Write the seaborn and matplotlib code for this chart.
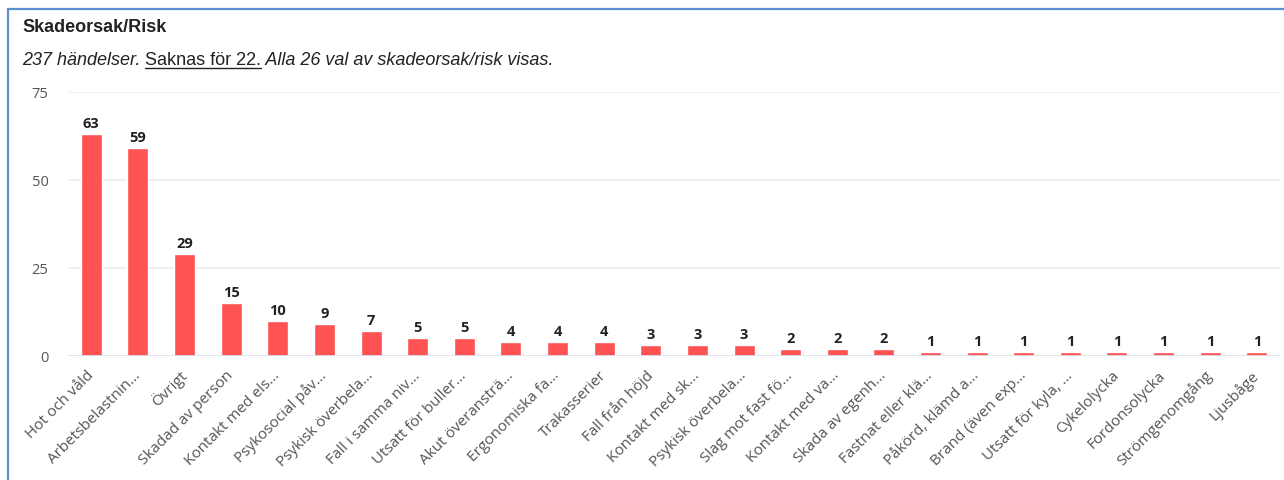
import matplotlib
matplotlib.use("Agg")
import seaborn as sns
import pandas as pd
from matplotlib import pyplot as plt
from matplotlib.patches import Rectangle
from matplotlib.lines import Line2D

CATEGORIES = [
    'Hot och våld', 'Arbetsbelastnin...', 'Övrigt', 'Skadad av person',
    'Kontakt med els...', 'Psykosocial påv...', 'Psykisk överbela...',
    'Fall i samma niv...', 'Utsatt för buller...', 'Akut överansträ...',
    'Ergonomiska fa...', 'Trakasserier', 'Fall från höjd', 'Kontakt med sk...',
    'Psykisk överbela...', 'Slag mot fast fö...', 'Kontakt med va...',
    'Skada av egenh...', 'Fastnat eller klä...', 'Påkörd, klämd a...',
    'Brand (även exp...', 'Utsatt för kyla, ...', 'Cykelolycka',
    'Fordonsolycka', 'Strömgenomgång', 'Ljusbåge',
]
COUNTS = [63, 59, 29, 15, 10, 9, 7, 5, 5, 4, 4, 4, 3, 3, 3, 2, 2, 2,
          1, 1, 1, 1, 1, 1, 1, 1]
Y_TICKS = [0, 25, 50, 75]

TITLE = 'Skadeorsak/Risk'
SUB_1 = '237 händelser. '
SUB_2 = 'Saknas för 22.'
SUB_3 = ' Alla 26 val av skadeorsak/risk visas.'

BAR_COLOR = '#ff5252'

# one row per bar, position keeps duplicate labels apart
data_pd = pd.DataFrame({'pos': range(len(CATEGORIES)), 'label': CATEGORIES, 'count': COUNTS})

sns.set_style("white")
plt.rcParams['font.family'] = ['Open Sans', 'DejaVu Sans']

fig = plt.figure(figsize=(12.84, 4.81), dpi=100)
ax = fig.add_axes([0.053, 0.258, 0.944, 0.549])

sns.barplot(data=data_pd, x='pos', y='count', color=BAR_COLOR, width=0.45,
            saturation=1, ax=ax, order=list(range(len(CATEGORIES))))

ax.set_ylim(0, 75)
ax.set_xlim(-0.5, len(CATEGORIES) - 0.5)
ax.set_yticks(Y_TICKS)
ax.set_yticklabels([str(t) for t in Y_TICKS], fontsize=10.5, color='#555555')
ax.tick_params(axis='y', length=0, pad=14)
ax.tick_params(axis='x', length=0, pad=12)
ax.set_xticks(range(len(CATEGORIES)))
ax.set_xticklabels(CATEGORIES, rotation=45, ha='right', va='center',
                   rotation_mode='anchor', fontsize=11, color='#555555')
ax.set_xlabel('')
ax.set_ylabel('')
for s in ax.spines.values():
    s.set_visible(False)
ax.grid(axis='y', color='#ececec', linewidth=1.2)
ax.set_axisbelow(True)
ax.axhline(0, color='#dce2ee', linewidth=2, zorder=3)

for c in ax.containers:
    ax.bar_label(c, labels=[str(v) for v in COUNTS], padding=3,
                 fontsize=10.5, fontweight='bold', color='#222222')

# panel border (cut off at right and bottom)
fig.patches.append(Rectangle((8 / 1284, -0.1), 1.2, 1 - 10 / 481 + 0.1,
                             transform=fig.transFigure, fill=False,
                             edgecolor='#5b8fd0', linewidth=1.6))

fig.text(22 / 1284, 1 - 27 / 481, TITLE, fontsize=13, fontweight='bold',
         color='#222222', family=['Liberation Sans', 'DejaVu Sans'], va='center')

# subtitle with underlined middle part
fig.canvas.draw()
r = fig.canvas.get_renderer()
x0 = 22 / 1284
y0 = 1 - 65 / 481
kw = dict(fontsize=13, style='italic', color='#222222',
          family=['Liberation Sans', 'DejaVu Sans'], va='baseline')
t1 = fig.text(x0, y0, SUB_1, **kw)
bb1 = t1.get_window_extent(r)
x1 = bb1.x1 / fig.bbox.width
t2 = fig.text(x1, y0, SUB_2, **dict(kw, style='normal'))
bb2 = t2.get_window_extent(r)
x2 = bb2.x1 / fig.bbox.width
fig.lines.append(Line2D([x1, x2], [y0 - 4 / 481, y0 - 4 / 481], transform=fig.transFigure,
                        color='#222222', linewidth=1))
fig.text(x2, y0, SUB_3, **kw)

fig.savefig('out.png', dpi=100)
